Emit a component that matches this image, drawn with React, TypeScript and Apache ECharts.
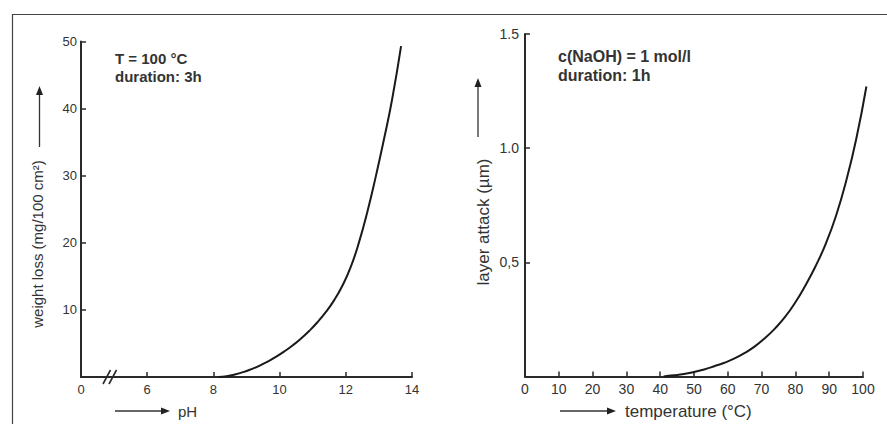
import React, { useEffect, useRef } from "react";
import * as echarts from "echarts";

// ---- Data (left panel: weight loss vs pH, T = 100 °C, 3h) ----
const phValues = [8.15, 8.4, 8.65, 8.9, 9.15, 9.4, 9.65, 9.9, 10.15, 10.4, 10.65, 10.9, 11.15, 11.4, 11.65, 11.9, 12.15, 12.4, 12.65, 12.9, 13.15, 13.4, 13.67];
const weightLoss = [0, 0.13, 0.38, 0.73, 1.18, 1.7, 2.33, 3.03, 3.83, 4.73, 5.75, 6.9, 8.2, 9.7, 11.46, 13.63, 16.4, 20.1, 24.6, 29.75, 35.35, 41.4, 49.3];
const phTicks = [4, 6, 8, 10, 12, 14];
const phTickLabels = ["0", "6", "8", "10", "12", "14"];
const weightTicks = [0, 10, 20, 30, 40, 50];
const weightTickLabels = ["", "10", "20", "30", "40", "50"];

// ---- Data (right panel: layer attack vs temperature, c(NaOH) = 1 mol/l, 1h) ----
const tempValues = [41, 44, 47, 50, 53, 56, 59, 62, 65, 68, 71, 74, 77, 80, 83, 86, 89, 92, 95, 98, 101];
const layerAttack = [0, 0.005, 0.011, 0.02, 0.031, 0.045, 0.06, 0.079, 0.103, 0.132, 0.168, 0.211, 0.262, 0.325, 0.4, 0.484, 0.582, 0.703, 0.855, 1.04, 1.27];
const tempTicks = [0, 10, 20, 30, 40, 50, 60, 70, 80, 90, 100];
const tempTickLabels = ["0", "10", "20", "30", "40", "50", "60", "70", "80", "90", "100"];
const attackTicks = [0, 0.5, 1.0, 1.5];
const attackTickLabels = ["", "0,5", "1.0", "1.5"];
const tempCurveMax = 101; // the drawn curve runs slightly past the 100 °C tick

const FONT = "'Liberation Sans', Arial, Helvetica, sans-serif";
const AXIS_COLOR = "#2a2a2a";
const TEXT_COLOR = "#333333";

function lookup(ticks: number[], labels: string[], v: number): string {
  for (let i = 0; i < ticks.length; i++) {
    if (Math.abs(ticks[i] - v) < 1e-6) return labels[i];
  }
  return "";
}

function axisParts(fontSize: number, margin: number, ticks: number[], labels: string[]) {
  return {
    axisLine: { show: true, onZero: false, lineStyle: { color: AXIS_COLOR, width: 2 } },
    axisTick: { show: true, inside: true, length: 5, lineStyle: { color: AXIS_COLOR, width: 1.5 } },
    splitLine: { show: false },
    axisLabel: {
      show: true,
      color: TEXT_COLOR,
      fontSize,
      fontFamily: FONT,
      margin,
      formatter: (v: number) => lookup(ticks, labels, v),
    },
  };
}

const hiddenAxis = {
  show: false,
  axisLine: { show: false },
  axisTick: { show: false },
  axisLabel: { show: false },
  splitLine: { show: false },
};

function arrowV(x: number, yBottom: number, yTip: number) {
  return [
    { type: "line", shape: { x1: x, y1: yBottom, x2: x, y2: yTip + 8 }, style: { stroke: "#333", lineWidth: 1.3 } },
    { type: "polygon", shape: { points: [[x - 3.5, yTip + 9], [x + 3.5, yTip + 9], [x, yTip]] }, style: { fill: "#222" } },
  ];
}

function arrowH(xStart: number, xTip: number, y: number) {
  return [
    { type: "line", shape: { x1: xStart, y1: y, x2: xTip - 8, y2: y }, style: { stroke: "#333", lineWidth: 1.3 } },
    { type: "polygon", shape: { points: [[xTip - 9, y - 3.5], [xTip - 9, y + 3.5], [xTip, y]] }, style: { fill: "#222" } },
  ];
}

export default function App() {
  const ref = useRef<HTMLDivElement | null>(null);

  useEffect(() => {
    if (!ref.current) return;
    const chart = echarts.init(ref.current, undefined, { renderer: "svg" });

    const leftData = phValues.map((v, i) => [v, weightLoss[i]]);
    const rightData = tempValues.map((v, i) => [v, layerAttack[i]]);

    const rightGridLeft = 525;
    const rightGridRight = 24;
    const rightPlotWidth = 887 - rightGridLeft - rightGridRight;
    const extendedRight = rightGridRight - (rightPlotWidth * (tempCurveMax - 100)) / 100;

    const option: any = {
      animation: false,
      backgroundColor: "#ffffff",
      grid: [
        { left: 81, top: 41.5, right: 475, bottom: 47, containLabel: false },
        { left: rightGridLeft, top: 34, right: rightGridRight, bottom: 47.5, containLabel: false },
        { left: rightGridLeft, top: 34, right: extendedRight, bottom: 47.5, containLabel: false },
      ],
      xAxis: [
        { type: "value", gridIndex: 0, min: 4, max: 14, interval: 2, ...axisParts(13, 6, phTicks, phTickLabels) },
        { type: "value", gridIndex: 1, min: 0, max: 100, interval: 10, ...axisParts(14, 5, tempTicks, tempTickLabels) },
        { type: "value", gridIndex: 2, min: 0, max: tempCurveMax, ...hiddenAxis },
      ],
      yAxis: [
        { type: "value", gridIndex: 0, min: 0, max: 50, interval: 10, ...axisParts(13, 4, weightTicks, weightTickLabels) },
        { type: "value", gridIndex: 1, min: 0, max: 1.5, interval: 0.5, ...axisParts(14, 6, attackTicks, attackTickLabels) },
        { type: "value", gridIndex: 2, min: 0, max: 1.5, ...hiddenAxis },
      ],
      series: [
        {
          type: "line",
          xAxisIndex: 0,
          yAxisIndex: 0,
          data: leftData,
          smooth: 0.5,
          symbol: "none",
          clip: false,
          lineStyle: { color: "#1a1a1a", width: 2 },
        },
        {
          type: "line",
          xAxisIndex: 2,
          yAxisIndex: 2,
          data: rightData,
          smooth: 0.5,
          symbol: "none",
          clip: false,
          lineStyle: { color: "#1a1a1a", width: 2 },
        },
      ],
      graphic: [
        { type: "line", shape: { x1: 12, y1: 14.5, x2: 887, y2: 14.5 }, style: { stroke: "#444", lineWidth: 1.2 } },
        { type: "line", shape: { x1: 12.5, y1: 14, x2: 12.5, y2: 424 }, style: { stroke: "#444", lineWidth: 1.2 } },
        { type: "line", shape: { x1: 103, y1: 384, x2: 110.5, y2: 370 }, style: { stroke: AXIS_COLOR, lineWidth: 1.6 } },
        { type: "line", shape: { x1: 109, y1: 384, x2: 116.5, y2: 370 }, style: { stroke: AXIS_COLOR, lineWidth: 1.6 } },
        ...arrowV(39.5, 147, 86),
        {
          type: "text",
          x: 37.5,
          y: 244,
          rotation: Math.PI / 2,
          style: { text: "weight loss (mg/100 cm²)", fontSize: 15, fontFamily: FONT, fill: TEXT_COLOR, textAlign: "center", textVerticalAlign: "middle" },
        },
        ...arrowH(115, 170, 411),
        { type: "text", x: 178, y: 411, style: { text: "pH", fontSize: 15, fontFamily: FONT, fill: TEXT_COLOR, textAlign: "left", textVerticalAlign: "middle" } },
        { type: "text", x: 115, y: 58, style: { text: "T = 100 °C", fontSize: 15, fontWeight: "bold", fontFamily: FONT, fill: TEXT_COLOR, textAlign: "left", textVerticalAlign: "middle" } },
        { type: "text", x: 115, y: 76, style: { text: "duration: 3h", fontSize: 15, fontWeight: "bold", fontFamily: FONT, fill: TEXT_COLOR, textAlign: "left", textVerticalAlign: "middle" } },
        ...arrowV(478, 137, 78),
        {
          type: "text",
          x: 483,
          y: 222,
          rotation: Math.PI / 2,
          style: { text: "layer attack (µm)", fontSize: 17, fontFamily: FONT, fill: TEXT_COLOR, textAlign: "center", textVerticalAlign: "middle" },
        },
        ...arrowH(560, 616, 411),
        { type: "text", x: 625, y: 411, style: { text: "temperature (°C)", fontSize: 17, fontFamily: FONT, fill: TEXT_COLOR, textAlign: "left", textVerticalAlign: "middle" } },
        { type: "text", x: 558, y: 56, style: { text: "c(NaOH) = 1 mol/l", fontSize: 16, fontWeight: "bold", fontFamily: FONT, fill: TEXT_COLOR, textAlign: "left", textVerticalAlign: "middle" } },
        { type: "text", x: 558, y: 75, style: { text: "duration: 1h", fontSize: 16, fontWeight: "bold", fontFamily: FONT, fill: TEXT_COLOR, textAlign: "left", textVerticalAlign: "middle" } },
      ],
    };

    chart.setOption(option);
    return () => {
      chart.dispose();
    };
  }, []);

  return <div ref={ref} style={{ position: "fixed", left: 0, top: 0, width: 887, height: 424, background: "#ffffff" }} />;
}
